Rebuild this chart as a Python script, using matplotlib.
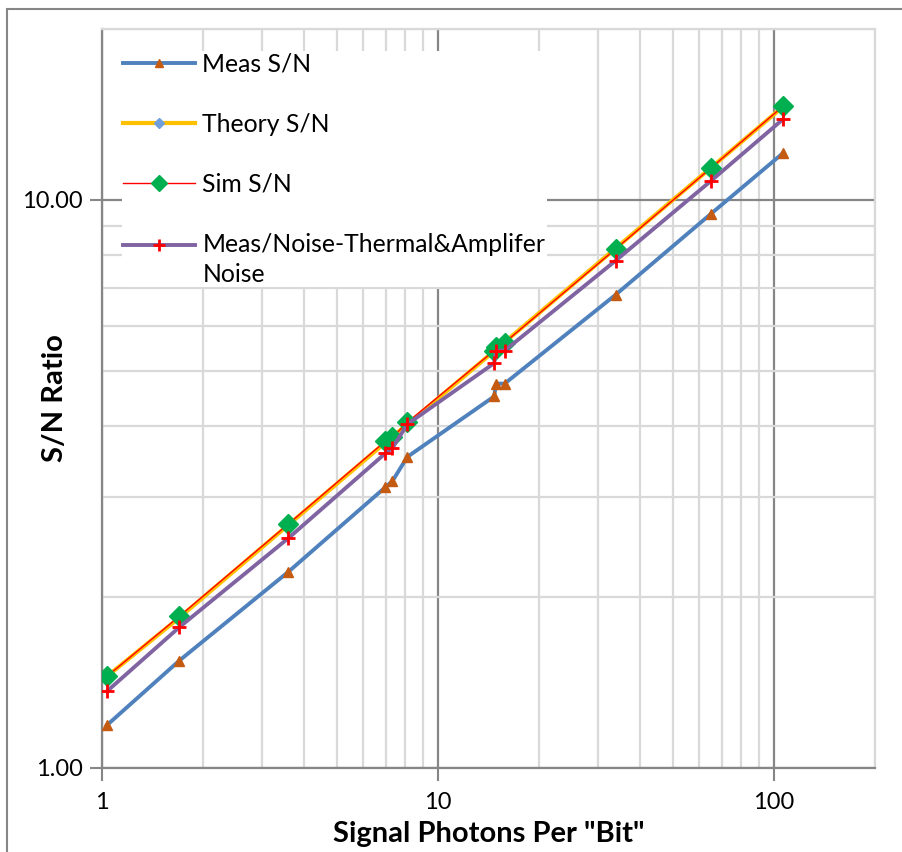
import matplotlib
matplotlib.use("Agg")
import matplotlib.pyplot as plt
import numpy as np
from matplotlib.ticker import LogLocator, FixedLocator, FixedFormatter, NullFormatter
from matplotlib.patches import Rectangle
from matplotlib.offsetbox import DrawingArea
from matplotlib.lines import Line2D

plt.rcParams['font.family'] = ['Lato', 'DejaVu Sans']

# data
photons = [1.035, 1.70, 3.59, 6.97, 7.32, 8.11, 14.7, 14.9, 15.8, 33.8, 64.9, 106.4]
meas_sn = [1.19, 1.546, 2.216, 3.12, 3.20, 3.53, 4.51, 4.75, 4.75, 6.81, 9.45, 12.09]
theory_sn = [1.45, 1.84, 2.68, 3.74, 3.83, 4.03, 5.42, 5.46, 5.62, 8.22, 11.39, 14.59]
sim_sn = [1.45, 1.85, 2.69, 3.76, 3.82, 4.06, 5.43, 5.52, 5.61, 8.20, 11.38, 14.62]
noise_sn = [1.365, 1.77, 2.54, 3.58, 3.66, 4.03, 5.16, 5.43, 5.43, 7.82, 10.8, 13.87]

x_ticks = [1, 10, 100]
x_labels = ['1', '10', '100']
y_ticks = [1, 10]
y_labels = ['1.00', '10.00']

W, H = 902, 852
fig = plt.figure(figsize=(W / 100, H / 100), dpi=100)
ax = fig.add_axes([102 / W, (H - 768) / H, 773 / W, 739 / H])

# outer chart border
fig.patches.append(Rectangle((7 / W, -0.05), 1.2, (H - 9) / H + 0.05,
                             transform=fig.transFigure, fill=False,
                             edgecolor='#868686', linewidth=1.5))

ax.set_xscale('log')
ax.set_yscale('log')
ax.set_xlim(1, 200)
ax.set_ylim(1, 20)

ax.plot(photons, meas_sn, color='#4F81BD', linewidth=2.8, marker='^',
        markersize=7, markerfacecolor='#C55A11', markeredgecolor='#C55A11',
        label='Meas S/N', zorder=3)
ax.plot(photons, theory_sn, color='#FFC000', linewidth=3.0, marker='D',
        markersize=7, markerfacecolor='#6F9FDD', markeredgecolor='#6F9FDD',
        label='Theory S/N', zorder=4)
ax.plot(photons, sim_sn, color='#FF0000', linewidth=1.0, marker='D',
        markersize=10, markerfacecolor='#00B050', markeredgecolor='#00B050',
        label='Sim S/N', zorder=5)
ax.plot(photons, noise_sn, color='#8064A2', linewidth=2.8, marker='+',
        markersize=10, markeredgewidth=2, markeredgecolor='#FF0000',
        label='Meas/Noise-Thermal&Amplifer\nNoise', zorder=6)

# gridlines like the spreadsheet
ax.xaxis.set_major_locator(FixedLocator(x_ticks))
ax.xaxis.set_major_formatter(FixedFormatter(x_labels))
ax.yaxis.set_major_locator(FixedLocator(y_ticks))
ax.yaxis.set_major_formatter(FixedFormatter(y_labels))
ax.xaxis.set_minor_locator(LogLocator(base=10, subs=range(2, 10)))
ax.yaxis.set_minor_locator(LogLocator(base=10, subs=range(2, 10)))
ax.xaxis.set_minor_formatter(NullFormatter())
ax.yaxis.set_minor_formatter(NullFormatter())
ax.grid(which='major', color='#868686', linewidth=1.6)
ax.grid(which='minor', color='#D9D9D9', linewidth=1.6)
ax.set_axisbelow(True)
ax.tick_params(which='minor', length=0)
ax.tick_params(which='major', length=9, width=1.5, color='#868686',
               labelsize=17, labelcolor='black')
ax.tick_params(axis='x', which='major', pad=8)
ax.tick_params(axis='y', which='major', pad=5)

for side in ['left', 'bottom']:
    ax.spines[side].set_color('#868686')
    ax.spines[side].set_linewidth(1.6)
for side in ['top', 'right']:
    ax.spines[side].set_color('#D9D9D9')
    ax.spines[side].set_linewidth(1.6)

ax.set_xlabel('Signal Photons Per "Bit"', fontsize=21, fontweight='bold', labelpad=6)
ax.set_ylabel('S/N Ratio', fontsize=21, fontweight='bold')
ax.yaxis.set_label_coords(-34 / 773, 0.5)

leg = ax.legend(loc='upper left', bbox_to_anchor=(20 / 773, (739 - 22) / 739),
                borderaxespad=0, fontsize=17.8, frameon=True, fancybox=False,
                edgecolor='white', framealpha=1, handlelength=2.9,
                handletextpad=0.3, labelspacing=1.51, borderpad=0.05,
                markerscale=0.8)
leg.get_frame().set_linewidth(0)
for t in leg.get_texts():
    t.set_linespacing(1.36)

# put the last handle level with the first line of its two-line label
areas = [c for c in leg.findobj(DrawingArea)]
if areas:
    for art in areas[-1].get_children():
        if isinstance(art, Line2D):
            art.set_ydata(np.asarray(art.get_ydata(), dtype=float) + 11.0)

fig.savefig('out.png', dpi=100, facecolor='white')
